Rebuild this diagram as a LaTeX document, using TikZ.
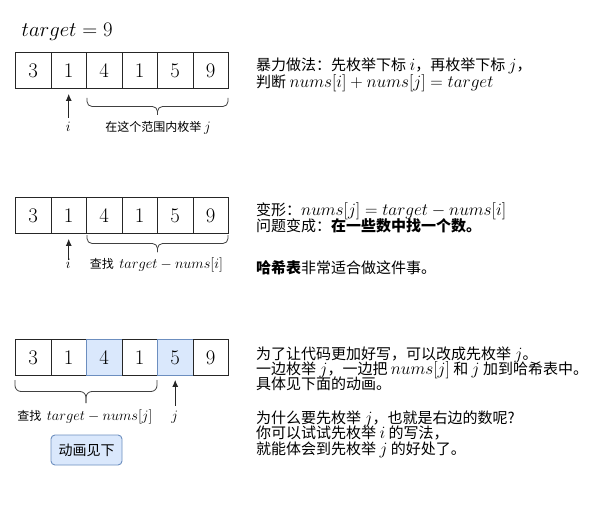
\documentclass[tikz,border=0pt]{standalone}
\usepackage[no-math]{fontspec}
\newfontfamily\cjk{Noto Sans CJK SC}
\usetikzlibrary{arrows.meta}
\definecolor{bfill}{HTML}{DAE8FC}
\definecolor{bline}{HTML}{6C8EBF}
\newcommand\mR[1]{\smash{\fontsize{18.5}{18.5}\selectfont$#1$}}
\newcommand\mL[1]{{\fontsize{15.5}{15.5}\selectfont$#1$}}
\begin{document}
\begin{tikzpicture}[x=1pt,y=-1pt,
  cell/.style={draw=black!85,line width=0.9pt,minimum width=35.5pt,minimum height=36pt,inner sep=0pt,anchor=north west,font=\fontsize{21.5}{21.5}\selectfont},
  hl/.style={cell,fill=bfill,draw=bline},
  plain/.style={cell,fill=white},
  rtext/.style={anchor=base west,inner sep=0pt,font=\cjk\fontsize{15}{16}\selectfont},
  ltext/.style={anchor=base,inner sep=0pt,font=\cjk\fontsize{12}{14}\selectfont},
  arr/.style={-{Latex[length=7pt,width=6pt]},line width=0.9pt,draw=black!85},
  brace/.style={line width=0.8pt,draw=black!75,rounded corners=5pt}]
\useasboundingbox[fill=white] (0,0) rectangle (594,513);
% title
\node[anchor=base west,inner sep=0pt,font=\fontsize{21.8}{21.8}\selectfont] (title) at (21.5,37) {$target=9$};
% row 1
\foreach \v [count=\k] in {3,1,4,1,5,9}
  \node[plain] (a\k) at ({15+35.5*(\k-1)},52) {$\v$};
% row 2
\foreach \v [count=\k] in {3,1,4,1,5,9}
  \node[plain] (b\k) at ({15+35.5*(\k-1)},197) {$\v$};
% row 3
\foreach \v/\s [count=\k] in {3/plain,1/plain,4/hl,1/plain,5/hl,9/plain}
  \node[\s] (c\k) at ({15+35.5*(\k-1)},339) {$\v$};
% braces
\draw[brace] (87,98) -- (87,106.5) -- (157.5,106.5) -- (157.5,115);
\draw[brace] (228,98) -- (228,106.5) -- (157.5,106.5) -- (157.5,115);
\draw[brace] (87,235) -- (87,243.5) -- (157.5,243.5) -- (157.5,252);
\draw[brace] (228,235) -- (228,243.5) -- (157.5,243.5) -- (157.5,252);
\draw[brace,rounded corners=6pt] (15,380) -- (15,391.5) -- (86,391.5) -- (86,403);
\draw[brace,rounded corners=6pt] (157,380) -- (157,391.5) -- (86,391.5) -- (86,403);
% arrows
\coordinate (t1) at ([yshift=-29pt]a2.south);
\coordinate (t2) at ([yshift=-26pt]b2.south);
\coordinate (t3) at ([yshift=-30pt]c5.south);
\draw[arr,shorten >=5pt] (t1) -- (a2.south);
\draw[arr,shorten >=5pt] (t2) -- (b2.south);
\draw[arr,shorten >=4pt] (t3) -- (c5.south);
% labels under arrays
\node[ltext] (i1) at (68.25,132) {\mL{i}};
\node[ltext] (l1) at (158,132) {在这个范围内枚举 \mL{j}};
\node[ltext] (i2) at (68.25,268) {\mL{i}};
\node[ltext] (l2) at (156.5,268) {查找\ \ \mL{target-nums[i]}};
\node[ltext] (l3) at (85,420) {查找\ \ \mL{target-nums[j]}};
\node[ltext] (j3) at (174.75,420) {\mL{j}};
% button
\node[draw=bline,fill=bfill,rounded corners=4pt,line width=0.9pt,minimum width=71pt,minimum height=30pt,inner sep=0pt,font=\cjk\fontsize{14}{14}\selectfont] (btn) at (86.5,450) {动画见下};
% right texts
\node[rtext] (r1) at (256,71) {暴力做法：先枚举下标 \mR{i}，再枚举下标 \mR{j}，};
\node[rtext] (r2) at (256,87.5) {判断 \mR{nums[i]+nums[j]=target}};
\node[rtext] (r3) at (256,215.5) {变形：\mR{nums[j]=target-nums[i]}};
\node[rtext] (r4) at (256,231) {问题变成：{\bfseries 在一些数中找一个数。}};
\node[rtext] (r5) at (256,273) {{\bfseries 哈希表}非常适合做这件事。};
\node[rtext] (r6) at (256,359.5) {为了让代码更加好写，可以改成先枚举 \mR{j}。};
\node[rtext] (r7) at (256,374.5) {一边枚举 \mR{j}，一边把 \mR{nums[j]} 和 \mR{j} 加到哈希表中。};
\node[rtext] (r8) at (256,389.5) {具体见下面的动画。};
\node[rtext] (r9) at (256,423) {为什么要先枚举 \mR{j}，也就是右边的数呢?};
\node[rtext] (r10) at (256,438.5) {你可以试试先枚举 \mR{i} 的写法，};
\node[rtext] (r11) at (256,454) {就能体会到先枚举 \mR{j} 的好处了。};
\end{tikzpicture}
\end{document}
